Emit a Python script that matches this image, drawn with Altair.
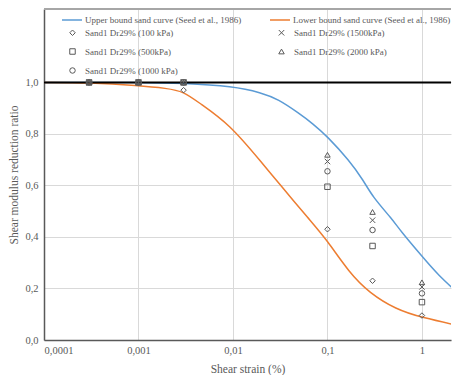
import altair as alt
import pandas as pd

# Seed et al. (1986) bounds for sand
upper_strain = [0.0001, 0.001, 0.003, 0.01, 0.02, 0.03, 0.05, 0.07, 0.1, 0.17, 0.24, 0.3, 0.49, 0.58, 1.0, 1.5, 2.5]
upper_ratio = [1.0, 1.0, 0.997, 0.985, 0.96, 0.935, 0.88, 0.84, 0.79, 0.697, 0.62, 0.556, 0.467, 0.428, 0.325, 0.25, 0.177]
lower_strain = [0.0001, 0.0003, 0.001, 0.002, 0.003, 0.0044, 0.0092, 0.02, 0.032, 0.0645, 0.098, 0.171, 0.278, 0.53, 1.0, 2.5]
lower_ratio = [1.0, 0.999, 0.988, 0.977, 0.965, 0.92, 0.838, 0.69, 0.6, 0.467, 0.39, 0.26, 0.183, 0.119, 0.087, 0.055]

# Test data
test_strain = [0.0003, 0.001, 0.003, 0.1, 0.3, 1.0]
g100 = [1.0, 1.0, 0.97, 0.43, 0.23, 0.095]
g500 = [1.0, 1.0, 1.0, 0.595, 0.365, 0.147]
g1000 = [1.0, 1.0, 1.0, 0.655, 0.427, 0.181]
g1500 = [1.0, 1.0, 1.0, 0.693, 0.465, 0.206]
g2000 = [1.0, 1.0, 1.0, 0.719, 0.497, 0.224]

curve_names = ["Upper bound sand curve (Seed et al., 1986)", "Lower bound sand curve (Seed et al., 1986)"]
sample_names = ["Sand1 Dr29% (100 kPa)", "Sand1 Dr29% (500kPa)", "Sand1 Dr29% (1000 kPa)",
                "Sand1 Dr29% (1500kPa)", "Sand1 Dr29% (2000 kPa)"]

x_ticks = [0.0001, 0.001, 0.01, 0.1, 1]
y_ticks = [0.0, 0.2, 0.4, 0.6, 0.8, 1.0]

FONT = "Liberation Serif"
GREY = "#595959"

rows = []
for s, r in zip(upper_strain, upper_ratio):
    rows.append({"curve": curve_names[0], "strain": s, "ratio": r})
for s, r in zip(lower_strain, lower_ratio):
    rows.append({"curve": curve_names[1], "strain": s, "ratio": r})
curves = pd.DataFrame(rows)

prow = []
for name, vals in zip(sample_names, [g100, g500, g1000, g1500, g2000]):
    for s, v in zip(test_strain, vals):
        prow.append({"sample": name, "strain": s, "ratio": v})
pts = pd.DataFrame(prow)

Y_TOP = 1.285
xscale = alt.Scale(type="log", domain=[0.0001, 2.03], nice=False)
yscale = alt.Scale(domain=[0, Y_TOP], nice=False, zero=False)

xaxis = alt.Axis(values=x_ticks, title="Shear strain (%)", grid=True, ticks=False,
                 labelExpr="replace(toString(datum.value), '.', ',')",
                 gridColor="#d9d9d9", domainColor=GREY, domainWidth=1.5,
                 labelFont=FONT, labelFontSize=10.5, labelColor=GREY, labelPadding=5,
                 titleFont=FONT, titleFontSize=11.5, titleColor=GREY, titleFontWeight="normal",
                 titlePadding=8)
yaxis = alt.Axis(values=y_ticks, title="Shear modulus reduction ratio", grid=True, ticks=False,
                 labelExpr="replace(format(datum.value, '.1f'), '.', ',')",
                 gridColor="#d9d9d9", domainColor=GREY, domainWidth=1.5,
                 labelFont=FONT, labelFontSize=10.5, labelColor=GREY, labelPadding=6,
                 titleFont=FONT, titleFontSize=11.5, titleColor=GREY, titleFontWeight="normal",
                 titlePadding=5)

lines = alt.Chart(curves).mark_line(clip=True, interpolate="basis", strokeWidth=1.5).encode(
    x=alt.X("strain:Q", scale=xscale, axis=xaxis),
    y=alt.Y("ratio:Q", scale=yscale, axis=yaxis),
    color=alt.Color("curve:N", scale=alt.Scale(domain=curve_names, range=["#5b9bd5", "#ed7d31"]),
                    legend=alt.Legend(title=None, orient="none", legendX=17, legendY=0,
                                      columns=2, columnPadding=25, symbolType="stroke",
                                      symbolSize=400, symbolStrokeWidth=1.5, labelOffset=2,
                                      labelFont=FONT, labelFontSize=9, labelColor=GREY,
                                      labelLimit=300, padding=0)),
)

ones = alt.Chart(pd.DataFrame({"y": [1.0]})).mark_rule(color="black", strokeWidth=2).encode(
    y=alt.Y("y:Q", scale=yscale))
top = alt.Chart(pd.DataFrame({"y": [Y_TOP]})).mark_rule(color="#a6a6a6", strokeWidth=2).encode(
    y=alt.Y("y:Q", scale=yscale))

xpath = "M-1,-1L1,1M-1,1L1,-1"
points = alt.Chart(pts).mark_point(filled=False, strokeWidth=1, color=GREY, opacity=1).encode(
    x=alt.X("strain:Q", scale=xscale),
    y=alt.Y("ratio:Q", scale=yscale),
    shape=alt.Shape("sample:N",
                    scale=alt.Scale(domain=sample_names,
                                    range=["diamond", "square", "circle", xpath, "triangle-up"]),
                    legend=alt.Legend(title=None, orient="none", legendX=24, legendY=19,
                                      columns=2, columnPadding=98, rowPadding=8,
                                      symbolSize=30, symbolStrokeColor=GREY, symbolStrokeWidth=1,
                                      symbolFillColor="transparent", labelOffset=8,
                                      labelFont=FONT, labelFontSize=9, labelColor=GREY,
                                      labelLimit=300, padding=0)),
    size=alt.value(30),
)

chart = alt.layer(top, lines, ones, points).properties(
    width=444, height=367, padding={"left": 0, "top": 0, "right": 0, "bottom": 0},
    autosize=alt.AutoSizeParams(type="fit", contains="padding")
).configure_view(stroke=None)

chart.save("out.html", embed_options={"renderer": "svg", "actions": False})
